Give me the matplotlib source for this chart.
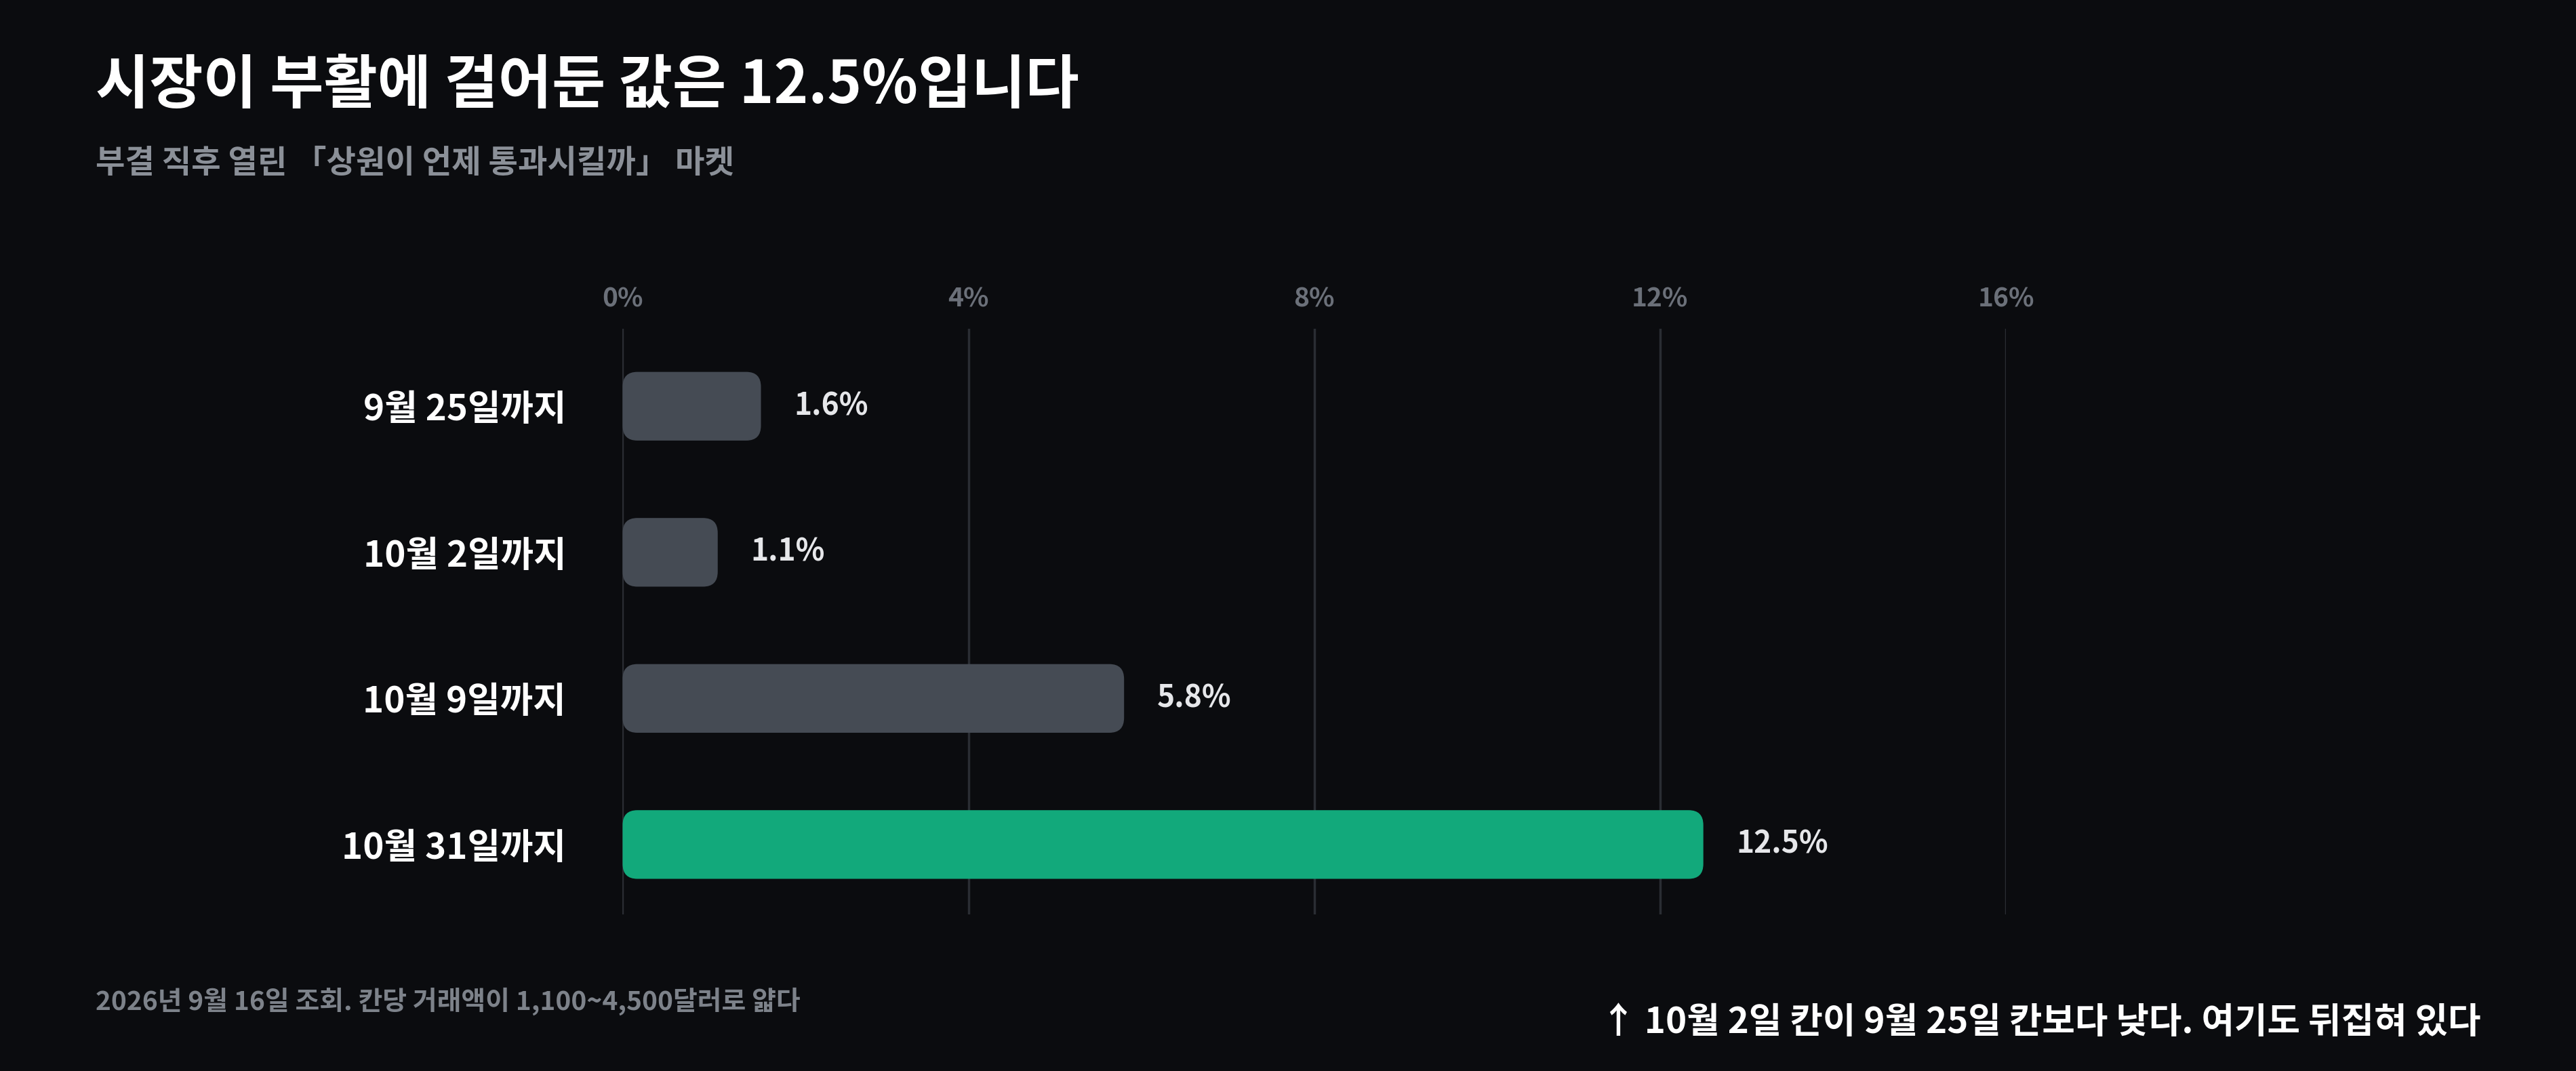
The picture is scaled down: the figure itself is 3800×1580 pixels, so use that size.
import matplotlib
matplotlib.use("Agg")
import matplotlib.pyplot as plt
from matplotlib.patches import FancyBboxPatch

plt.rcParams['font.family'] = ['Noto Sans CJK KR', 'DejaVu Sans']

categories = ["9월 25일까지", "10월 2일까지", "10월 9일까지", "10월 31일까지"]
values = [1.6, 1.1, 5.8, 12.5]
value_labels = ["1.6%", "1.1%", "5.8%", "12.5%"]
ticks = [0, 4, 8, 12, 16]
tick_labels = ["0%", "4%", "8%", "12%", "16%"]
colors = ["#454b54", "#454b54", "#454b54", "#12a97b"]

BG = "#0b0c0f"
fig = plt.figure(figsize=(38, 15.8), dpi=100, facecolor=BG)
ax = fig.add_axes([0.2417, 0.146, 0.5370, 0.547], facecolor=BG)

bars = ax.barh(range(len(values)), values, height=0.47, color=colors)
for b, c in zip(bars, colors):
    x, y = b.get_x(), b.get_y()
    w, h = b.get_width(), b.get_height()
    b.set_visible(False)
    p = FancyBboxPatch((x, y), w, h, boxstyle="round,pad=0,rounding_size=0.17",
                       mutation_aspect=0.6, facecolor=c, edgecolor="none", zorder=3)
    ax.add_patch(p)
    
for i, (v, lab) in enumerate(zip(values, value_labels)):
    ax.text(v + 0.38, i, lab, va='center', ha='left', color="#e6e7ea",
            fontsize=32, fontweight='bold')

ax.set_xlim(0, 16)
ax.set_ylim(3.48, -0.53)
ax.set_xticks(ticks)
ax.set_xticklabels(tick_labels)
ax.xaxis.tick_top()
ax.tick_params(axis='x', length=0, pad=18, labelsize=28, labelcolor="#6b7079")
for t in ax.get_xticklabels():
    t.set_fontweight('bold')
ax.set_yticks(range(len(categories)))
ax.set_yticklabels(categories)
ax.tick_params(axis='y', length=0, pad=60, labelsize=38, labelcolor="white")
for t in ax.get_yticklabels():
    t.set_fontweight('bold')
ax.grid(axis='x', color="#2a2d33", linewidth=2.5, zorder=0)
ax.set_axisbelow(True)
for s in ax.spines.values():
    s.set_visible(False)

fig.text(0.037, 0.92, "시장이 부활에 걸어둔 값은 12.5%입니다", color="white",
         fontsize=62, fontweight='bold', va='center', ha='left')
fig.text(0.037, 0.848, "부결 직후 열린 「상원이 언제 통과시킬까」 마켓", color="#8b9098",
         fontsize=34, fontweight='bold', va='center', ha='left')
fig.text(0.037, 0.065, "2026년 9월 16일 조회. 칸당 거래액이 1,100~4,500달러로 얇다",
         color="#7d828a", fontsize=28, fontweight='bold', va='center', ha='left')
fig.text(0.963, 0.045, "↑ 10월 2일 칸이 9월 25일 칸보다 낮다. 여기도 뒤집혀 있다",
         color="white", fontsize=38, fontweight='bold', va='center', ha='right')

fig.savefig("out.png", dpi=100, facecolor=BG)
